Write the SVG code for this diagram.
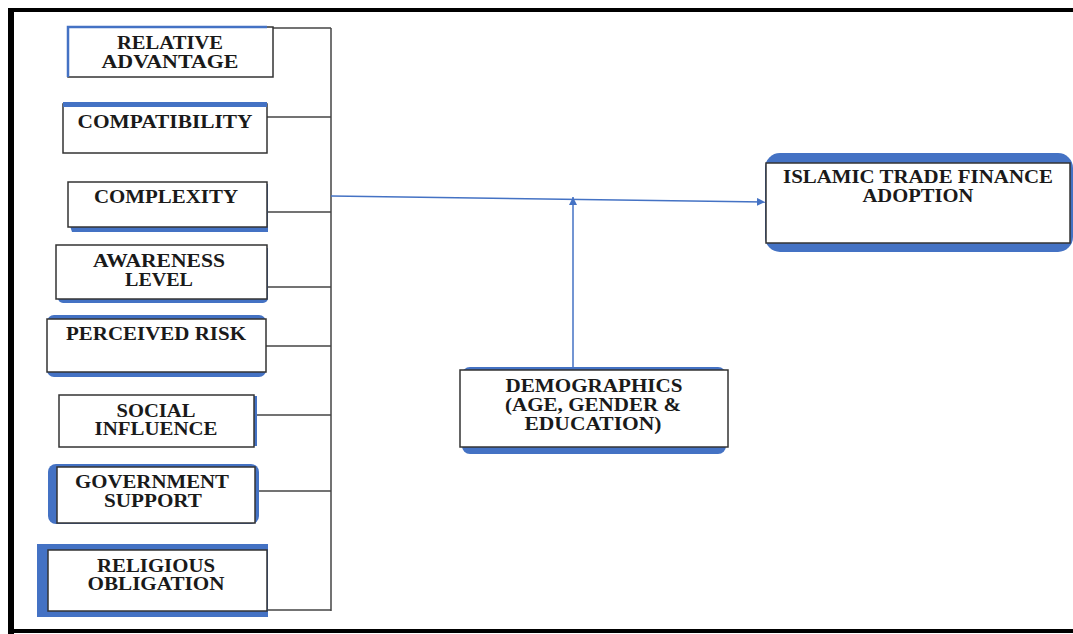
<svg xmlns="http://www.w3.org/2000/svg" width="1073" height="634" viewBox="0 0 1073 634">
<style>
.bg{fill:#ffffff}
.frame{stroke:#000;fill:none}
.box{fill:#fff;stroke:#333;stroke-width:1.5}
.blue{fill:#4472c4}
.bl{stroke:#4472c4;fill:none}
.t{font-family:"Liberation Serif","Times New Roman",serif;font-weight:bold;font-size:18.5px;fill:#1a1a1a;text-anchor:middle}
.conn{stroke:#444;stroke-width:1.5;fill:none}
.arr{stroke:#4472c4;stroke-width:1.5;fill:none}
</style>
<defs>
<marker id="ah" viewBox="0 0 10 10" refX="10" refY="5" markerWidth="8" markerHeight="8" markerUnits="userSpaceOnUse" orient="auto">
<path d="M0,0 L10,5 L0,10 z" fill="#4472c4"/>
</marker>
</defs>
<rect class="bg" x="0" y="0" width="1073" height="634"/>
<g id="frame">
<line class="frame" x1="8" y1="10" x2="1073" y2="10" stroke-width="4"/>
<line class="frame" x1="11" y1="8" x2="11" y2="634" stroke-width="6"/>
<line class="frame" x1="8" y1="631" x2="1073" y2="631" stroke-width="4"/>
</g>
<g id="connectors">
<line class="conn" x1="331" y1="28" x2="331" y2="611"/>
<line class="conn" x1="273" y1="28" x2="331" y2="28"/>
<line class="conn" x1="267" y1="117" x2="331" y2="117"/>
<line class="conn" x1="267" y1="212" x2="331" y2="212"/>
<line class="conn" x1="267" y1="287" x2="331" y2="287"/>
<line class="conn" x1="266" y1="346" x2="331" y2="346"/>
<line class="conn" x1="255" y1="415" x2="331" y2="415"/>
<line class="conn" x1="258" y1="491" x2="331" y2="491"/>
<line class="conn" x1="267" y1="610" x2="331" y2="610"/>
<line class="arr" x1="331" y1="196" x2="765" y2="202" marker-end="url(#ah)"/>
<line class="arr" x1="573" y1="368" x2="573" y2="197" marker-end="url(#ah)"/>
</g>
<g id="relative-advantage">
<rect class="box" x="68" y="27" width="205" height="50"/>
<path class="bl" d="M68,77 L68,27 L267,27" stroke-width="2.5"/>
<text class="t" x="170" y="49" textLength="106" lengthAdjust="spacingAndGlyphs">RELATIVE</text>
<text class="t" x="170" y="68" textLength="137" lengthAdjust="spacingAndGlyphs">ADVANTAGE</text>
</g>
<g id="compatibility">
<rect class="box" x="63" y="104" width="204" height="49"/>
<rect class="blue" x="63" y="102" width="204" height="5"/>
<text class="t" x="165" y="128" textLength="175" lengthAdjust="spacingAndGlyphs">COMPATIBILITY</text>
</g>
<g id="complexity">
<path class="blue" d="M70,226 L268,226 L268,232 L72,232 Z"/>
<rect class="blue" x="265" y="184" width="3" height="46"/>
<rect class="box" x="68" y="182" width="199" height="45"/>
<text class="t" x="166" y="203" textLength="144" lengthAdjust="spacingAndGlyphs">COMPLEXITY</text>
</g>
<g id="awareness-level">
<rect class="blue" x="58" y="290" width="210" height="13" rx="5"/>
<rect class="blue" x="265" y="248" width="3" height="50"/>
<rect class="box" x="56" y="245" width="211" height="54"/>
<text class="t" x="159" y="267" textLength="132" lengthAdjust="spacingAndGlyphs">AWARENESS</text>
<text class="t" x="159" y="286" textLength="68" lengthAdjust="spacingAndGlyphs">LEVEL</text>
</g>
<g id="perceived-risk">
<rect class="blue" x="47" y="315" width="219" height="62" rx="7"/>
<rect class="box" x="47" y="319" width="219" height="53"/>
<text class="t" x="156" y="340" textLength="180" lengthAdjust="spacingAndGlyphs">PERCEIVED RISK</text>
</g>
<g id="social-influence">
<rect class="blue" x="252" y="396" width="5" height="50"/>
<rect class="box" x="59" y="395" width="195" height="52"/>
<text class="t" x="156" y="417" textLength="79" lengthAdjust="spacingAndGlyphs">SOCIAL</text>
<text class="t" x="156" y="435" textLength="123" lengthAdjust="spacingAndGlyphs">INFLUENCE</text>
</g>
<g id="government-support">
<rect class="blue" x="48" y="464" width="211" height="60" rx="8"/>
<rect class="box" x="57" y="467" width="198" height="56"/>
<text class="t" x="152" y="488" textLength="154" lengthAdjust="spacingAndGlyphs">GOVERNMENT</text>
<text class="t" x="153" y="507" textLength="98" lengthAdjust="spacingAndGlyphs">SUPPORT</text>
</g>
<g id="religious-obligation">
<rect class="blue" x="37" y="544" width="231" height="73"/>
<rect class="box" x="48" y="550" width="219" height="61"/>
<text class="t" x="156" y="572" textLength="118" lengthAdjust="spacingAndGlyphs">RELIGIOUS</text>
<text class="t" x="156" y="590" textLength="137" lengthAdjust="spacingAndGlyphs">OBLIGATION</text>
</g>
<g id="demographics">
<rect class="blue" x="462" y="367" width="264" height="87" rx="8"/>
<rect class="box" x="460" y="370" width="268" height="77"/>
<text class="t" x="594" y="392" textLength="177" lengthAdjust="spacingAndGlyphs">DEMOGRAPHICS</text>
<text class="t" x="593" y="411" textLength="176" lengthAdjust="spacingAndGlyphs">(AGE, GENDER &amp;</text>
<text class="t" x="593" y="430" textLength="137" lengthAdjust="spacingAndGlyphs">EDUCATION)</text>
</g>
<g id="islamic-trade-finance-adoption">
<rect class="blue" x="765" y="153" width="308" height="99" rx="15"/>
<rect class="box" x="766" y="163" width="304" height="80"/>
<text class="t" x="918" y="183" textLength="270" lengthAdjust="spacingAndGlyphs">ISLAMIC TRADE FINANCE</text>
<text class="t" x="918" y="202" textLength="111" lengthAdjust="spacingAndGlyphs">ADOPTION</text>
</g>
</svg>
